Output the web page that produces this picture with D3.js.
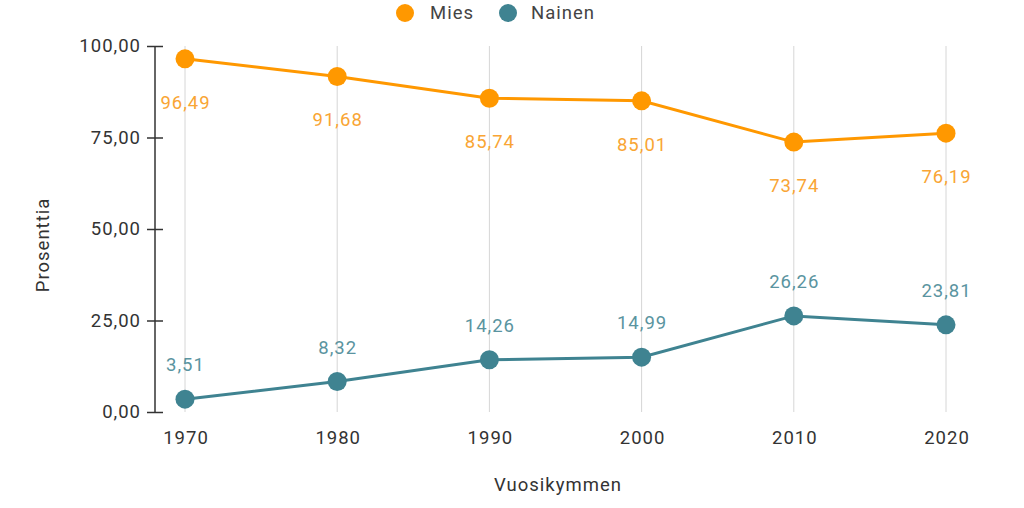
<!DOCTYPE html>
<html><head><meta charset="utf-8">
<script src="https://cdn.jsdelivr.net/npm/d3@7"></script>
<style>body{margin:0;background:#fff;font-family:Roboto,sans-serif;} text{letter-spacing:1px;}</style>
</head><body><svg id="c" width="1024" height="508"></svg>
<script>
const categories = ["1970","1980","1990","2000","2010","2020"];
const mies = [96.49, 91.68, 85.74, 85.01, 73.74, 76.19];
const nainen = [3.51, 8.32, 14.26, 14.99, 26.26, 23.81];
const yTicks = [0, 25, 50, 75, 100];
const seriesNames = ["Mies", "Nainen"];
const colors = ["#ff9800", "#3f8391"];
const labelColors = ["#f9a534", "#5a94a0"];

const svg = d3.select("#c");
const x = d3.scalePoint().domain(categories).range([185, 946]);
const y = d3.scaleLinear().domain([0, 100]).range([412, 46]);
const fmt = v => v.toFixed(2).replace(".", ",");
const FS = 18.5;

// grid
svg.append("g").selectAll("line").data(categories).join("line")
  .attr("x1", d => x(d)).attr("x2", d => x(d))
  .attr("y1", y(100)).attr("y2", y(0))
  .attr("stroke", "#d6d6d6").attr("stroke-width", 1);

// y axis
const yAxis = svg.append("g").attr("transform", "translate(155,0)")
  .call(d3.axisLeft(y).tickValues(yTicks).tickFormat(fmt).tickSize(8).tickPadding(8));
yAxis.select(".domain").attr("stroke", "#333").attr("stroke-width", 1.5).attr("d", `M0,${y(100)}V${y(0)}`);
yAxis.selectAll(".tick line").attr("x1", -8).attr("x2", 8).attr("stroke", "#333").attr("stroke-width", 1.5);
yAxis.selectAll(".tick text").attr("x", -14).attr("font-size", FS).attr("font-family", "Roboto").attr("fill", "#333");

// x axis labels
const xAxis = svg.append("g").attr("transform", "translate(0,412)")
  .call(d3.axisBottom(x).tickSize(0).tickPadding(0));
xAxis.select(".domain").remove();
xAxis.selectAll(".tick text").attr("x", 0.5).attr("y", 32).attr("dy", null).attr("font-size", FS).attr("font-family", "Roboto").attr("fill", "#333");

// axis titles
svg.append("text").attr("x", 558).attr("y", 491).attr("text-anchor", "middle")
  .attr("font-size", FS).attr("fill", "#333").text("Vuosikymmen");
svg.append("text").attr("transform", "translate(49,245) rotate(-90)").attr("text-anchor", "middle")
  .attr("font-size", FS).attr("fill", "#333").text("Prosenttia");

const series = [mies, nainen];
const line = d3.line().x((d, i) => x(categories[i])).y(d => y(d));
series.forEach((s, k) => {
  svg.append("path").datum(s).attr("d", line).attr("fill", "none")
    .attr("stroke", colors[k]).attr("stroke-width", 3);
  svg.append("g").selectAll("circle").data(s).join("circle")
    .attr("cx", (d, i) => x(categories[i])).attr("cy", d => y(d)).attr("r", 9.5)
    .attr("fill", colors[k]);
  svg.append("g").selectAll("text").data(s).join("text")
    .attr("x", (d, i) => x(categories[i]) + 0.5)
    .attr("y", d => k === 0 ? y(d) + 50 : y(d) - 28)
    .attr("text-anchor", "middle").attr("font-size", FS).attr("fill", labelColors[k])
    .text(fmt);
});

// legend
const leg = [[405, 430], [508, 531]];
seriesNames.forEach((n, k) => {
  svg.append("circle").attr("cx", leg[k][0]).attr("cy", 13).attr("r", 9).attr("fill", colors[k]);
  svg.append("text").attr("x", leg[k][1]).attr("y", 19).attr("font-size", FS).attr("fill", "#444").text(n);
});
</script></body></html>
